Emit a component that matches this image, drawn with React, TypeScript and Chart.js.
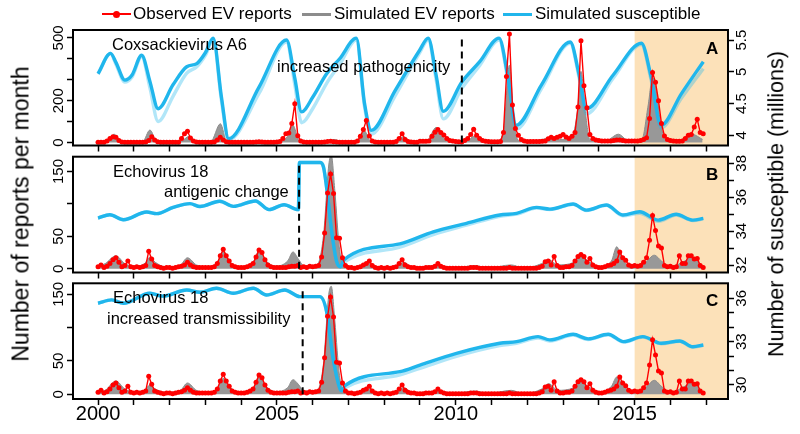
import React, { useEffect, useRef } from "react";
import { Chart, registerables } from "chart.js";

Chart.register(...registerables);

// ---------------- DATA ----------------
const START_YEAR = 2000;

// Observed Coxsackievirus A6 reports per month, Jan 2000 .. Dec 2016
const obsCVA6: number[] = [
  2, 2, 2, 8, 20, 28, 25, 10, 3, 2, 2, 2,
  2, 2, 2, 2, 3, 10, 28, 12, 4, 2, 2, 2,
  2, 2, 2, 2, 20, 42, 54, 22, 8, 3, 2, 2,
  2, 2, 2, 3, 12, 25, 12, 4, 2, 2, 2, 2,
  2, 2, 2, 2, 2, 3, 4, 3, 2, 2, 2, 2,
  3, 5, 20, 42, 46, 91, 186, 33, 8, 3, 2, 2,
  2, 2, 2, 2, 3, 5, 6, 4, 3, 2, 2, 2,
  2, 2, 2, 8, 30, 62, 106, 32, 8, 3, 2, 2,
  2, 2, 2, 2, 5, 20, 42, 15, 5, 3, 2, 2,
  6, 6, 6, 8, 30, 49, 62, 48, 36, 20, 10, 8,
  5, 4, 3, 10, 20, 38, 64, 35, 20, 10, 6, 5,
  4, 4, 4, 5, 48, 316, 519, 180, 67, 35, 15, 8,
  5, 5, 5, 5, 5, 6, 8, 18, 25, 20, 25, 30,
  38, 27, 20, 30, 48, 170, 487, 272, 167, 38, 20, 12,
  10, 8, 8, 8, 8, 10, 12, 12, 10, 8, 8, 8,
  8, 8, 10, 15, 23, 115, 335, 288, 200, 91, 32, 15,
  10, 8, 6, 6, 8, 20, 35, 38, 75, 112, 48, 42,
];

// Observed Echovirus 18 reports per month, Jan 2000 .. Dec 2016
const obsE18: number[] = [
  3, 6, 2, 4, 8, 14, 17, 10, 3, 5, 12, 3,
  2, 3, 2, 3, 5, 27, 15, 5, 3, 2, 1, 2,
  2, 1, 2, 3, 4, 6, 10, 6, 3, 2, 2, 2,
  2, 2, 2, 3, 8, 20, 30, 20, 12, 5, 3, 2,
  2, 2, 3, 5, 8, 18, 29, 25, 14, 6, 3, 2,
  2, 2, 2, 2, 3, 4, 4, 5, 2, 3, 2, 4,
  3, 4, 5, 18, 55, 117, 146, 116, 48, 47, 17, 5,
  2, 2, 1, 2, 3, 6, 8, 12, 5, 2, 1, 2,
  1, 2, 1, 2, 3, 8, 14, 6, 3, 2, 2, 1,
  1, 1, 2, 2, 2, 4, 8, 4, 2, 1, 1, 1,
  1, 1, 1, 1, 1, 2, 2, 2, 1, 1, 1, 1,
  1, 1, 1, 1, 1, 1, 2, 1, 1, 1, 1, 1,
  1, 1, 1, 1, 2, 4, 11, 12, 6, 19, 5, 2,
  2, 3, 3, 5, 12, 19, 22, 19, 10, 16, 6, 3,
  2, 2, 3, 5, 6, 8, 12, 26, 17, 13, 6, 4,
  5, 4, 5, 10, 17, 44, 82, 59, 35, 32, 5, 3,
  4, 2, 3, 20, 8, 8, 20, 20, 15, 16, 5, 2,
];

// Simulated EV reports (upper envelope of simulations), CVA6
const simCVA6Year: number[] = [
  2000.0, 2000.3, 2000.45, 2000.6, 2000.8, 2001.25, 2001.45, 2001.65, 2002.3, 2002.55,
  2002.75, 2003.15, 2003.42, 2003.6, 2003.9, 2004.5, 2005.1, 2005.3, 2005.45, 2005.62,
  2005.9, 2006.4, 2006.6, 2006.8, 2007.25, 2007.45, 2007.6, 2007.9, 2008.35, 2008.55,
  2008.75, 2009.2, 2009.45, 2009.7, 2010.0, 2010.35, 2010.5, 2010.7, 2011.2, 2011.35,
  2011.5, 2011.62, 2011.75, 2012.2, 2012.6, 2012.9, 2013.25, 2013.4, 2013.5, 2013.62,
  2013.75, 2014.2, 2014.55, 2014.8, 2015.2, 2015.38, 2015.5, 2015.6, 2015.72, 2015.85,
  2016.2, 2016.6, 2016.9,
];
const simCVA6: number[] = [
  3, 10, 40, 15, 3, 5, 60, 5, 5, 30,
  4, 5, 90, 5, 2, 5, 5, 30, 82, 10,
  3, 5, 15, 5, 8, 55, 10, 3, 8, 28,
  5, 10, 72, 15, 5, 10, 30, 8, 10, 80,
  370, 120, 10, 8, 20, 15, 30, 150, 340, 150,
  15, 10, 40, 12, 15, 180, 310, 250, 100, 15,
  8, 40, 15,
];

// Simulated EV reports, Echovirus 18 (two scenarios share the time knots)
const simE18Year: number[] = [
  2000.0, 2000.2, 2000.5, 2000.75, 2001.0, 2001.3, 2001.45, 2001.6, 2001.9, 2002.3,
  2002.5, 2002.75, 2003.1, 2003.35, 2003.5, 2003.7, 2004.0, 2004.35, 2004.5, 2004.7,
  2004.95, 2005.3, 2005.45, 2005.6, 2005.75, 2006.1, 2006.3, 2006.45, 2006.52, 2006.62,
  2006.75, 2006.9, 2007.4, 2007.6, 2007.8, 2008.35, 2008.55, 2008.8, 2009.5, 2009.9,
  2010.55, 2010.9, 2011.55, 2011.9, 2012.4, 2012.6, 2012.85, 2013.3, 2013.5, 2013.7,
  2014.0, 2014.35, 2014.5, 2014.65, 2014.9, 2015.3, 2015.55, 2015.75, 2016.0, 2016.4,
  2016.6, 2016.75, 2016.92,
];
const simE18Antigenic: number[] = [
  3, 8, 20, 8, 4, 8, 18, 10, 3, 6,
  17, 6, 3, 12, 27, 10, 3, 12, 28, 12,
  4, 12, 26, 15, 5, 5, 50, 160, 175, 120,
  30, 3, 4, 8, 2, 4, 10, 2, 5, 1,
  5, 1, 6, 1, 8, 14, 6, 10, 20, 12,
  3, 12, 34, 15, 4, 10, 21, 12, 3, 12,
  18, 12, 3,
];
const simE18Transmiss: number[] = [
  3, 6, 20, 8, 4, 6, 14, 8, 3, 6,
  17, 6, 3, 10, 24, 10, 3, 10, 27, 12,
  4, 10, 22, 15, 5, 5, 45, 150, 162, 110,
  28, 3, 4, 8, 2, 4, 10, 2, 5, 1,
  5, 1, 6, 1, 8, 16, 6, 10, 18, 12,
  3, 12, 26, 15, 4, 10, 21, 12, 3, 12,
  18, 12, 3,
];

// Simulated susceptible (millions): central trajectory and lower edge of the spread
const susCVA6Year: number[] = [
  2000.0, 2000.35, 2000.5, 2000.75, 2000.95, 2001.22, 2001.45, 2001.68, 2002.1, 2002.48,
  2002.76, 2003.0, 2003.22, 2003.45, 2003.65, 2004.5, 2005.27, 2005.5, 2005.69, 2006.0,
  2006.39, 2006.76, 2007.22, 2007.45, 2007.64, 2008.3, 2008.99, 2009.23, 2009.45, 2009.65,
  2010.17, 2010.67, 2011.21, 2011.45, 2011.69, 2012.4, 2013.2, 2013.45, 2013.65, 2014.4,
  2015.19, 2015.45, 2015.74, 2016.3, 2016.92,
];
const susCVA6: number[] = [
  4.97, 5.29, 5.15, 4.87, 4.95, 5.26, 4.85, 4.42, 4.8, 5.08,
  5.13, 5.3, 5.53, 4.6, 3.95, 4.76, 5.5, 4.9, 4.37, 4.6,
  4.97, 5.21, 5.53, 4.5, 4.08, 4.7, 5.34, 5.53, 4.95, 4.38,
  4.84, 5.16, 5.53, 4.95, 4.16, 4.8, 5.47, 4.95, 4.42, 4.95,
  5.45, 4.95, 4.16, 4.65, 5.16,
];
const susCVA6Low: number[] = [
  4.97, 5.29, 5.12, 4.84, 4.92, 5.24, 4.75, 4.22, 4.62, 4.98,
  5.08, 5.26, 5.5, 4.55, 3.93, 4.66, 5.47, 4.8, 4.2, 4.42,
  4.82, 5.12, 5.5, 4.45, 4.02, 4.62, 5.3, 5.5, 4.88, 4.26,
  4.74, 5.1, 5.5, 4.9, 4.1, 4.74, 5.45, 4.9, 4.34, 4.9,
  5.43, 4.9, 4.12, 4.58, 5.05,
];

const susE18AntigenicYear: number[] = [
  2000.0, 2000.33, 2000.71, 2001.36, 2001.64, 2002.1, 2002.57, 2002.85, 2003.4, 2003.78,
  2004.4, 2004.78, 2005.2, 2005.6, 2005.63, 2006.2, 2006.3, 2006.4, 2006.53, 2006.67,
  2006.78, 2006.87, 2008.44, 2009.37, 2010.3, 2011.23, 2011.7, 2012.26, 2012.63, 2013.28,
  2013.65, 2014.21, 2014.67, 2015.14, 2015.66, 2016.16, 2016.63, 2016.92,
];
const susE18Antigenic: number[] = [
  34.77, 34.97, 34.67, 35.13, 35.03, 35.4, 35.62, 35.45, 35.76, 35.46,
  35.78, 35.27, 35.56, 35.27, 38.05, 38.05, 37.8, 36.4, 34.0, 32.2,
  31.9, 32.3, 33.25, 33.96, 34.46, 34.95, 35.05, 35.4, 35.3, 35.6,
  35.24, 35.54, 34.95, 35.14, 34.65, 35.0, 34.65, 34.75,
];
const susE18AntigenicLow: number[] = [
  34.77, 34.97, 34.67, 35.13, 35.03, 35.4, 35.62, 35.45, 35.76, 35.46,
  35.78, 35.27, 35.56, 35.27, 38.05, 38.05, 37.8, 36.4, 34.0, 32.2,
  31.9, 32.15, 33.05, 33.8, 34.35, 34.88, 35.0, 35.36, 35.27, 35.58,
  35.22, 35.52, 34.9, 35.05, 34.58, 34.95, 34.62, 34.72,
];

const susE18TransmissYear: number[] = [
  2000.0, 2000.38, 2000.71, 2001.45, 2001.8, 2002.48, 2002.85, 2003.31, 2003.78, 2004.34,
  2004.71, 2005.22, 2005.64, 2006.2, 2006.39, 2006.57, 2006.76, 2006.82, 2006.9, 2008.44,
  2009.0, 2010.02, 2011.23, 2011.7, 2012.3, 2012.63, 2013.28, 2013.7, 2014.26, 2014.69,
  2015.23, 2015.74, 2016.26, 2016.63, 2016.92,
];
const susE18Transmiss: number[] = [
  35.66, 35.89, 35.66, 36.35, 36.15, 36.58, 36.42, 36.7, 36.35, 36.7,
  36.23, 36.58, 36.12, 36.12, 35.08, 31.85, 29.77, 29.6, 29.95, 30.92,
  31.38, 32.19, 32.89, 33.0, 33.35, 33.12, 33.51, 33.19, 33.51, 33.0,
  33.35, 32.89, 33.05, 32.65, 32.77,
];
const susE18TransmissLow: number[] = [
  35.66, 35.89, 35.66, 36.35, 36.15, 36.58, 36.42, 36.7, 36.35, 36.7,
  36.23, 36.58, 36.12, 36.12, 35.08, 31.85, 29.77, 29.6, 29.8, 30.7,
  31.15, 31.98, 32.72, 32.88, 33.25, 33.05, 33.45, 33.15, 33.48, 32.97,
  33.32, 32.86, 33.02, 32.62, 32.74,
];

// Axes
const yearTicks: number[] = [2000, 2001, 2002, 2003, 2004, 2005, 2006, 2007, 2008, 2009, 2010, 2011, 2012, 2013, 2014, 2015, 2016, 2017];
const yearLabels: number[] = [2000, 2005, 2010, 2015];
const reportTicksA: number[] = [0, 100, 200, 300, 400, 500];
const reportLabelsA: number[] = [0, 200, 500];
const reportTicksE18: number[] = [0, 50, 100, 150];
const reportLabelsE18: number[] = [0, 50, 150];
const susTicksA: number[] = [4, 4.5, 5, 5.5];
const susLabelsA: number[] = [4, 4.5, 5, 5.5];
const susTicksB: number[] = [32, 33, 34, 35, 36, 37, 38];
const susLabelsB: number[] = [32, 34, 36, 38];
const susTicksC: number[] = [30, 31, 32, 33, 34, 35, 36];
const susLabelsC: number[] = [30, 33, 36];

// Events
const forecastStart = 2015.0;
const eventCVA6 = 2010.17;
const eventE18Antigenic = 2005.62;
const eventE18Transmiss = 2005.72;

// ---------------- STYLE ----------------
const RED = "#FF0000";
const GRAY_FILL = "rgb(152,152,152)";
const GRAY_LINE = "rgb(140,140,140)";
const CYAN = "rgb(32,182,236)";
const CYAN_LIGHT = "rgba(32,182,236,0.35)";
const SHADE = "rgb(252,225,185)";
const FONT = '"Liberation Sans", Arial, Helvetica, sans-serif';

type PanelCfg = {
  obs: number[];
  simYear: number[];
  sim: number[];
  susYear: number[];
  sus: number[];
  susLow: number[];
  yL: { min: number; max: number; ticks: number[]; labels: number[] };
  yR: { min: number; max: number; ticks: number[]; labels: number[] };
  event: number;
  eventTop: number;
  showYears: boolean;
};

const panels: { cfg: PanelCfg; top: number; height: number; padTop: number; xH: number }[] = [
  {
    cfg: {
      obs: obsCVA6, simYear: simCVA6Year, sim: simCVA6, susYear: susCVA6Year, sus: susCVA6, susLow: susCVA6Low,
      yL: { min: -14, max: 538, ticks: reportTicksA, labels: reportLabelsA },
      yR: { min: 3.842, max: 5.658, ticks: susTicksA, labels: susLabelsA },
      event: eventCVA6, eventTop: 500, showYears: false,
    },
    top: 0, height: 152, padTop: 30, xH: 6.5,
  },
  {
    cfg: {
      obs: obsE18, simYear: simE18Year, sim: simE18Antigenic, susYear: susE18AntigenicYear, sus: susE18Antigenic, susLow: susE18AntigenicLow,
      yL: { min: -5.7, max: 172.8, ticks: reportTicksE18, labels: reportLabelsE18 },
      yR: { min: 31.56, max: 38.39, ticks: susTicksB, labels: susLabelsB },
      event: eventE18Antigenic, eventTop: 163, showYears: false,
    },
    top: 150, height: 130, padTop: 6.7, xH: 7.5,
  },
  {
    cfg: {
      obs: obsE18, simYear: simE18Year, sim: simE18Transmiss, susYear: susE18TransmissYear, sus: susE18Transmiss, susLow: susE18TransmissLow,
      yL: { min: -7, max: 166.5, ticks: reportTicksE18, labels: reportLabelsE18 },
      yR: { min: 29.03, max: 37.04, ticks: susTicksC, labels: susLabelsC },
      event: eventE18Transmiss, eventTop: 156, showYears: true,
    },
    top: 276, height: 158, padTop: 7.3, xH: 35,
  },
];

function fmt(v: number): string {
  return String(v);
}

function Panel({ cfg, top, height, padTop, xH }: { cfg: PanelCfg; top: number; height: number; padTop: number; xH: number }) {
  const ref = useRef<HTMLCanvasElement>(null);
  useEffect(() => {
    const canvas = ref.current;
    if (!canvas) return;
    const deco = {
      id: "deco",
      beforeDatasetsDraw(chart: any) {
        const { ctx, chartArea: a, scales } = chart;
        const x0 = scales.x.getPixelForValue(forecastStart);
        ctx.save();
        ctx.fillStyle = SHADE;
        ctx.fillRect(x0, a.top, a.right - x0, a.bottom - a.top);
        ctx.restore();
      },
      afterDatasetsDraw(chart: any) {
        const { ctx, chartArea: a, scales } = chart;
        const xe = scales.x.getPixelForValue(cfg.event);
        ctx.save();
        ctx.strokeStyle = "#000";
        ctx.lineWidth = 2;
        ctx.setLineDash([7, 5]);
        ctx.beginPath();
        ctx.moveTo(xe, scales.yL.getPixelForValue(0));
        ctx.lineTo(xe, scales.yL.getPixelForValue(cfg.eventTop));
        ctx.stroke();
        ctx.setLineDash([]);
        ctx.lineWidth = 2;
        ctx.strokeRect(a.left, a.top, a.right - a.left, a.bottom - a.top);
        ctx.restore();
      },
      afterDraw(chart: any) {
        const { ctx, chartArea: a, scales } = chart;
        ctx.save();
        ctx.fillStyle = "#000";
        ctx.font = `15px ${FONT}`;
        ctx.textAlign = "center";
        ctx.textBaseline = "middle";
        for (const v of cfg.yL.labels) {
          const y = scales.yL.getPixelForValue(v);
          ctx.save();
          ctx.translate(a.left - 14, y);
          ctx.rotate(-Math.PI / 2);
          ctx.fillText(fmt(v), 0, 0);
          ctx.restore();
        }
        for (const v of cfg.yR.labels) {
          const y = scales.yR.getPixelForValue(v);
          ctx.save();
          ctx.translate(a.right + 14, y);
          ctx.rotate(-Math.PI / 2);
          ctx.fillText(fmt(v), 0, 0);
          ctx.restore();
        }
        if (cfg.showYears) {
          ctx.font = `20px ${FONT}`;
          for (const v of yearLabels) {
            const x = scales.x.getPixelForValue(v);
            ctx.fillText(fmt(v), x, a.bottom + 15);
          }
        }
        ctx.restore();
      },
    };

    const tickGrid = {
      drawOnChartArea: false,
      drawTicks: true,
      tickLength: 6,
      tickColor: "#000",
      tickWidth: 1.5,
      color: "#000",
    };

    const chart = new Chart(canvas, {
      type: "line",
      data: {
        datasets: [
          {
            label: "Observed EV reports",
            data: cfg.obs.map((v, i) => ({ x: START_YEAR + i / 12, y: v })),
            yAxisID: "yL",
            borderColor: RED,
            backgroundColor: RED,
            borderWidth: 1.4,
            pointRadius: 2.5,
            pointBorderWidth: 0,
            pointBackgroundColor: RED,
            tension: 0,
          },
          {
            label: "Simulated susceptible",
            data: cfg.susYear.map((x, i) => ({ x, y: cfg.sus[i] })),
            yAxisID: "yR",
            borderColor: CYAN,
            borderWidth: 3.4,
            pointRadius: 0,
            cubicInterpolationMode: "monotone",
          },
          {
            label: "Simulated susceptible spread",
            data: cfg.susYear.map((x, i) => ({ x, y: cfg.susLow[i] })),
            yAxisID: "yR",
            borderColor: CYAN_LIGHT,
            borderWidth: 3.4,
            pointRadius: 0,
            cubicInterpolationMode: "monotone",
          },
          {
            label: "Simulated EV reports",
            data: cfg.simYear.map((x, i) => ({ x, y: cfg.sim[i] })),
            yAxisID: "yL",
            borderColor: GRAY_LINE,
            backgroundColor: GRAY_FILL,
            fill: "origin",
            borderWidth: 1,
            pointRadius: 0,
            cubicInterpolationMode: "monotone",
          },
        ] as any,
      },
      options: {
        animation: false,
        responsive: false,
        maintainAspectRatio: false,
        events: [],
        layout: { padding: { top: padTop, left: 0, right: 0, bottom: 0 } },
        plugins: { legend: { display: false }, tooltip: { enabled: false } },
        scales: {
          x: {
            type: "linear",
            min: 1999.3,
            max: 2017.61,
            ticks: { display: false },
            grid: tickGrid,
            border: { display: false },
            afterBuildTicks: (s: any) => {
              s.ticks = yearTicks.map((v) => ({ value: v }));
            },
            afterFit: (s: any) => {
              s.height = xH;
            },
          },
          yL: {
            type: "linear",
            position: "left",
            min: cfg.yL.min,
            max: cfg.yL.max,
            ticks: { display: false },
            grid: tickGrid,
            border: { display: false },
            afterBuildTicks: (s: any) => {
              s.ticks = cfg.yL.ticks.map((v) => ({ value: v }));
            },
            afterFit: (s: any) => {
              s.width = 73;
            },
          },
          yR: {
            type: "linear",
            position: "right",
            min: cfg.yR.min,
            max: cfg.yR.max,
            ticks: { display: false },
            grid: tickGrid,
            border: { display: false },
            afterBuildTicks: (s: any) => {
              s.ticks = cfg.yR.ticks.map((v) => ({ value: v }));
            },
            afterFit: (s: any) => {
              s.width = 72;
            },
          },
        } as any,
      },
      plugins: [deco],
    });
    return () => chart.destroy();
  }, []);
  return (
    <canvas
      ref={ref}
      width={800}
      height={height}
      style={{ position: "absolute", left: 0, top, width: 800, height }}
    />
  );
}

const txt = (extra: React.CSSProperties): React.CSSProperties => ({
  position: "absolute",
  fontFamily: FONT,
  color: "#000",
  lineHeight: 1,
  whiteSpace: "nowrap",
  ...extra,
});

export default function App() {
  return (
    <div style={{ position: "fixed", left: 0, top: 0, width: 800, height: 434, background: "#fff", overflow: "hidden" }}>
      {panels.map((p, i) => (
        <Panel key={i} cfg={p.cfg} top={p.top} height={p.height} padTop={p.padTop} xH={p.xH} />
      ))}

      {/* legend */}
      <div style={{ position: "absolute", left: 102, top: 13, width: 29, height: 2, background: RED }} />
      <div style={{ position: "absolute", left: 113, top: 10.5, width: 7, height: 7, borderRadius: 4, background: RED }} />
      <div style={txt({ left: 133, top: 5, fontSize: 17 })}>Observed EV reports</div>
      <div style={{ position: "absolute", left: 302, top: 12.5, width: 29, height: 3, background: GRAY_LINE }} />
      <div style={txt({ left: 334, top: 5, fontSize: 17 })}>Simulated EV reports</div>
      <div style={{ position: "absolute", left: 503, top: 12.5, width: 29, height: 3, background: CYAN }} />
      <div style={txt({ left: 535, top: 5, fontSize: 17 })}>Simulated susceptible</div>

      {/* axis titles */}
      <div style={txt({ left: 21, top: 214, fontSize: 23, transform: "translate(-50%, -50%) rotate(-90deg)" })}>
        Number of reports per month
      </div>
      <div style={txt({ left: 777, top: 204, fontSize: 21.5, transform: "translate(-50%, -50%) rotate(-90deg)" })}>
        Number of susceptible (millions)
      </div>

      {/* panel annotations */}
      <div style={txt({ left: 112, top: 36, fontSize: 16.5 })}>Coxsackievirus A6</div>
      <div style={txt({ left: 277, top: 58, fontSize: 16.5 })}>increased pathogenicity</div>
      <div style={txt({ left: 113, top: 162.5, fontSize: 16.5 })}>Echovirus 18</div>
      <div style={txt({ left: 164, top: 182.5, fontSize: 16.5 })}>antigenic change</div>
      <div style={txt({ left: 113, top: 288.5, fontSize: 16.5 })}>Echovirus 18</div>
      <div style={txt({ left: 107, top: 309.5, fontSize: 16.5 })}>increased transmissibility</div>

      <div style={txt({ left: 706, top: 40, fontSize: 17, fontWeight: "bold" })}>A</div>
      <div style={txt({ left: 706, top: 166, fontSize: 17, fontWeight: "bold" })}>B</div>
      <div style={txt({ left: 706, top: 291.5, fontSize: 17, fontWeight: "bold" })}>C</div>
    </div>
  );
}
